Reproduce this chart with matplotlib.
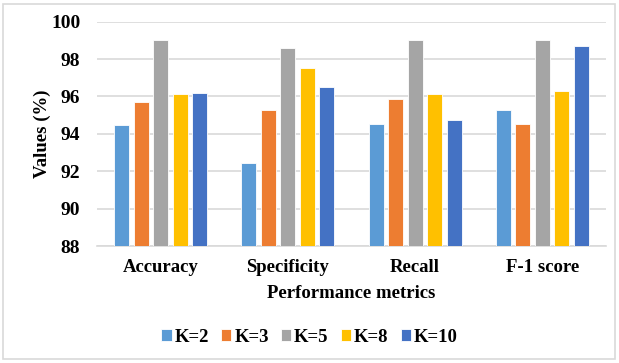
import numpy as np
import matplotlib.pyplot as plt
from matplotlib.patches import Rectangle

metrics = ['Accuracy', 'Specificity', 'Recall', 'F-1 score']
k_labels = ['K=2', 'K=3', 'K=5', 'K=8', 'K=10']
k2 = [94.5, 92.45, 94.55, 95.3]
k3 = [95.7, 95.3, 95.85, 94.55]
k5 = [99.0, 98.6, 99.0, 99.0]
k8 = [96.12, 97.5, 96.15, 96.3]
k10 = [96.17, 96.5, 94.75, 98.72]
series = [k2, k3, k5, k8, k10]
colors = ['#5B9BD5', '#ED7D31', '#A5A5A5', '#FFC000', '#4472C4']

plt.rcParams['font.family'] = ['Liberation Serif', 'DejaVu Serif']
plt.rcParams['font.weight'] = 'bold'

fig = plt.figure(figsize=(6.19, 3.63), dpi=100)
ax = fig.add_axes([97 / 619, 1 - 246 / 363, 509 / 619, 224.3 / 363])

x = np.arange(len(metrics))
slot = 0.153
width = 0.118
for i, (vals, lab, c) in enumerate(zip(series, k_labels, colors)):
    ax.bar(x + (i - 2) * slot, vals, width, bottom=0, color=c, label=lab,
           edgecolor='white', linewidth=0.6, zorder=3)

ax.set_ylim(88, 100)
ax.set_xlim(-0.5, 3.5)
ax.set_yticks(range(88, 101, 2))
ax.set_xticks(x)
ax.set_xticklabels(metrics)
ax.tick_params(axis='y', length=0, labelsize=14, pad=12)
ax.tick_params(axis='x', length=0, labelsize=13.5, pad=9)
for t in ax.get_xticklabels() + ax.get_yticklabels():
    t.set_fontweight('bold')
ax.grid(axis='y', color='#d9d9d9', linewidth=1.2, zorder=0)
for s in ['top', 'right', 'left']:
    ax.spines[s].set_visible(False)
ax.spines['bottom'].set_color('#d9d9d9')
ax.spines['bottom'].set_linewidth(1.2)

ax.set_xlabel('Performance metrics', fontsize=13.5, fontweight='bold', labelpad=7)
ax.set_ylabel('Values (%)', fontsize=13.5, fontweight='bold', labelpad=0)

fig.legend(loc='center', bbox_to_anchor=(0.5, 1 - 337 / 363), ncol=5, frameon=False,
           prop={'size': 13.5, 'weight': 'bold'}, handlelength=0.55, handleheight=0.55,
           handletextpad=0.15, columnspacing=0.65)

fig.patches.append(Rectangle((3 / 619, 4 / 363), 612 / 619, 355 / 363,
                             transform=fig.transFigure, fill=False,
                             edgecolor='#d9d9d9', linewidth=1.2))

fig.savefig('out.png', dpi=100)
